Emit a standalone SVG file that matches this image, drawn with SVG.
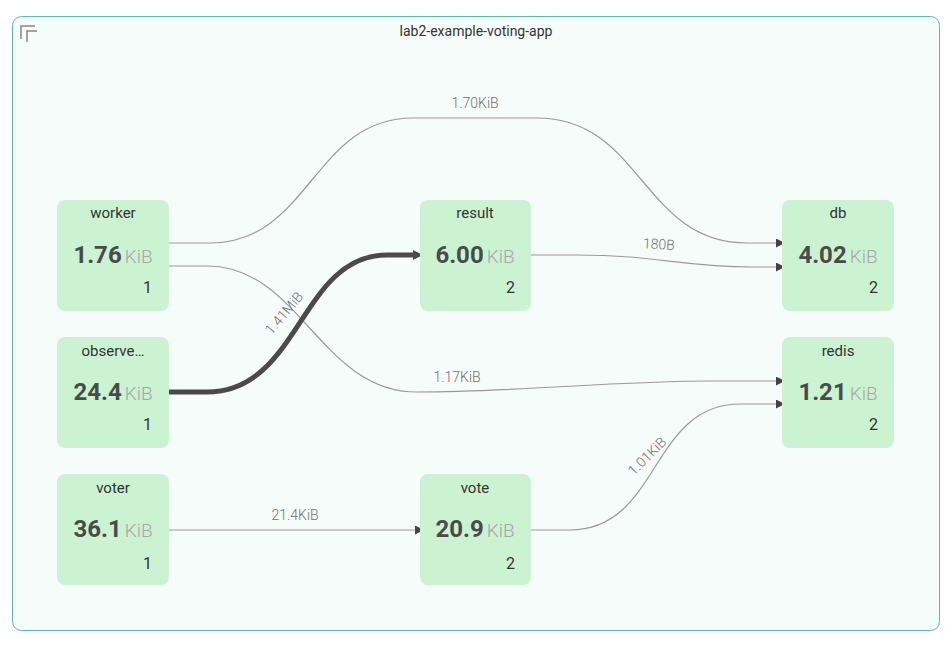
<svg xmlns="http://www.w3.org/2000/svg" width="952" height="649" viewBox="0 0 952 649">
<defs>
<style>
text{font-family:Roboto,"Liberation Sans",Arial,sans-serif}
.node rect{fill:#cbf3d2;}
.title{font-size:15px;fill:#333;text-anchor:middle}
.val{font-size:24px;font-weight:700;fill:#4a4a4a}
.unit{font-size:19px;font-weight:300;fill:#a6a6a6}
.cnt{font-size:16px;fill:#333;text-anchor:end}
.edge{fill:none;stroke:#999;stroke-width:1.2}
.thick{fill:none;stroke:#4a4a4a;stroke-width:5}
.elabel{font-size:14px;font-weight:300;fill:#707070;text-anchor:middle}
</style>
<marker id="arr" viewBox="0 0 9 9" refX="0" refY="4.5" markerWidth="9" markerHeight="9" markerUnits="userSpaceOnUse" orient="auto">
<path d="M0,0 L9,4.5 L0,9 z" fill="#444"/>
</marker>
<marker id="arrT" viewBox="0 0 10 10" refX="0" refY="5" markerWidth="10" markerHeight="10" markerUnits="userSpaceOnUse" orient="auto">
<path d="M0,0 L10,5 L0,10 z" fill="#4a4a4a"/>
</marker>
</defs>
<rect width="952" height="649" fill="#fff"/>
<g id="container">
<rect x="12.5" y="16.5" width="927" height="614" rx="9" fill="#f6fcf9" stroke="#5cbaa9" stroke-width="1"/>
<path d="M21,39 V26 H35 M27,42 V31 H37" fill="none" stroke="#888" stroke-width="1.5"/>
<text x="476" y="36" style="font-size:14px;fill:#333;text-anchor:middle">lab2-example-voting-app</text>
</g>
<g id="connectors">
<path class="edge" d="M169,243 H210 C310,243 313,118 413,118 H537 C642,118 642,243 747,243 H776" marker-end="url(#arr)"/>
<path class="edge" d="M169,266 H207 C300,266 320,392 417,392 C520,392 610,381 713,381 H776" marker-end="url(#arr)"/>
<path class="edge" d="M531,255 H575 C660,255 680,267 753,267 H776" marker-end="url(#arr)"/>
<path class="edge" d="M531,530 H570 C660,530 650,404 740,404 H776" marker-end="url(#arr)"/>
<path class="edge" d="M169,530 H415" marker-end="url(#arr)"/>
<path class="thick" d="M169,392 H207 C300,392 300,255 387,255 H413" marker-end="url(#arrT)"/>
<text class="elabel" x="475" y="108">1.70KiB</text>
<text class="elabel" x="659" y="249" transform="rotate(3 659 245)">180B</text>
<text class="elabel" x="457" y="382">1.17KiB</text>
<text class="elabel" x="295" y="520">21.4KiB</text>
<text class="elabel" x="284" y="318" transform="rotate(-50 284 313)">1.41MiB</text>
<text class="elabel" x="647" y="461" transform="rotate(-45 647 456)">1.01KiB</text>
</g>
<g id="worker" class="node">
<rect x="57" y="200" width="112" height="111" rx="8"/>
<text class="title" x="113" y="218">worker</text>
<text x="113" y="263" text-anchor="middle"><tspan class="val">1.76</tspan><tspan class="unit" dx="3">KiB</tspan></text>
<text class="cnt" x="152" y="293">1</text>
</g>
<g id="observe" class="node">
<rect x="57" y="337" width="112" height="111" rx="8"/>
<text class="title" x="113" y="356">observe…</text>
<text x="113" y="400" text-anchor="middle"><tspan class="val">24.4</tspan><tspan class="unit" dx="3">KiB</tspan></text>
<text class="cnt" x="152" y="430">1</text>
</g>
<g id="voter" class="node">
<rect x="57" y="474" width="112" height="111" rx="8"/>
<text class="title" x="113" y="493">voter</text>
<text x="113" y="537" text-anchor="middle"><tspan class="val">36.1</tspan><tspan class="unit" dx="3">KiB</tspan></text>
<text class="cnt" x="152" y="569">1</text>
</g>
<g id="result" class="node">
<rect x="420" y="200" width="111" height="111" rx="8"/>
<text class="title" x="475" y="218">result</text>
<text x="475" y="263" text-anchor="middle"><tspan class="val">6.00</tspan><tspan class="unit" dx="3">KiB</tspan></text>
<text class="cnt" x="515" y="293">2</text>
</g>
<g id="vote" class="node">
<rect x="420" y="474" width="111" height="111" rx="8"/>
<text class="title" x="475" y="493">vote</text>
<text x="475" y="537" text-anchor="middle"><tspan class="val">20.9</tspan><tspan class="unit" dx="3">KiB</tspan></text>
<text class="cnt" x="515" y="569">2</text>
</g>
<g id="db" class="node">
<rect x="782" y="200" width="112" height="111" rx="8"/>
<text class="title" x="838" y="218">db</text>
<text x="838" y="263" text-anchor="middle"><tspan class="val">4.02</tspan><tspan class="unit" dx="3">KiB</tspan></text>
<text class="cnt" x="878" y="293">2</text>
</g>
<g id="redis" class="node">
<rect x="782" y="337" width="112" height="111" rx="8"/>
<text class="title" x="838" y="356">redis</text>
<text x="838" y="400" text-anchor="middle"><tspan class="val">1.21</tspan><tspan class="unit" dx="3">KiB</tspan></text>
<text class="cnt" x="878" y="430">2</text>
</g>
</svg>
